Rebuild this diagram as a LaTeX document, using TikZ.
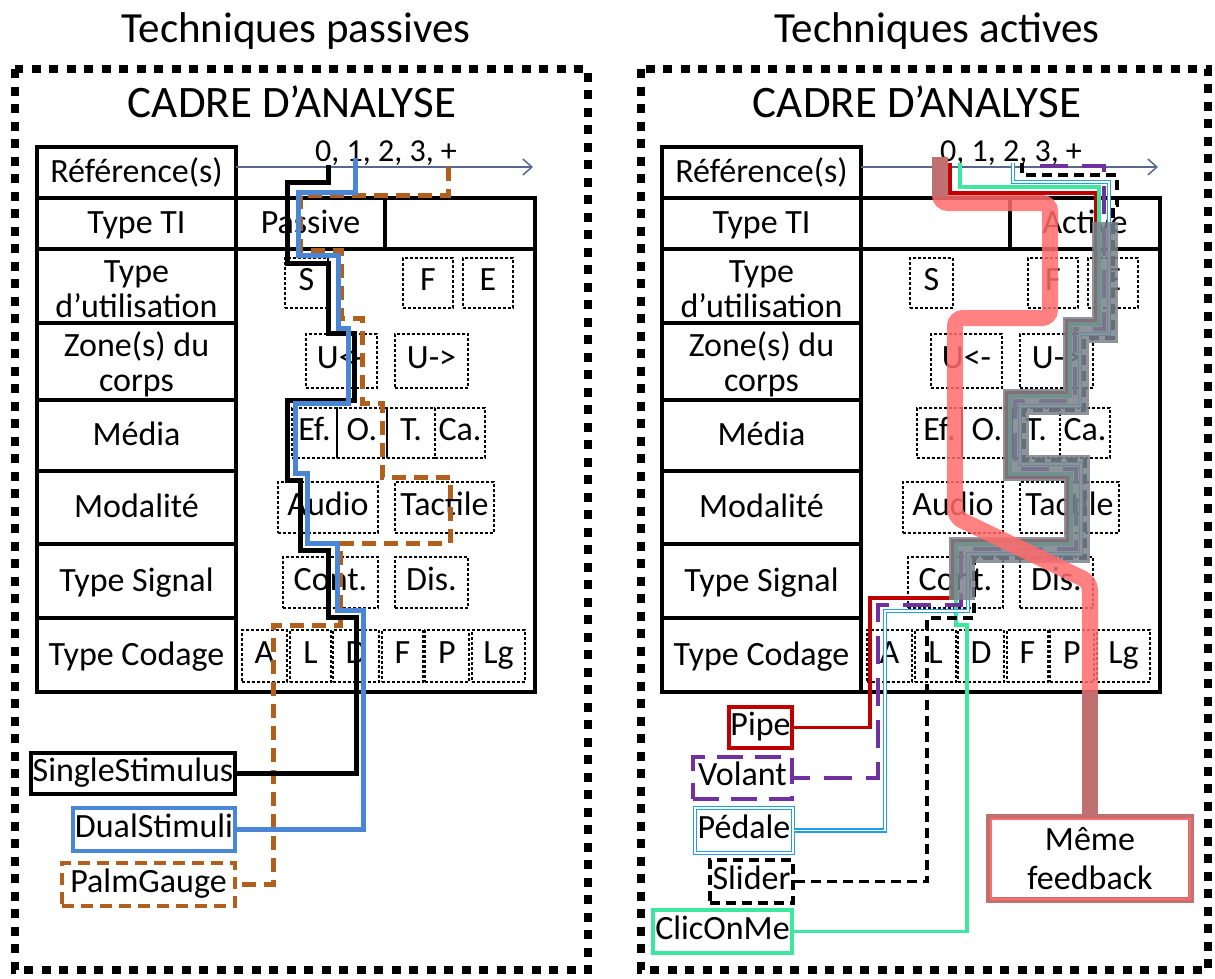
\documentclass[tikz,border=0pt]{standalone}
\usepackage{fontspec}
\setmainfont{Carlito}
\usetikzlibrary{arrows.meta}
\definecolor{dsblue}{RGB}{74,134,214}
\definecolor{pgbrown}{RGB}{176,96,28}
\definecolor{pipered}{RGB}{192,0,0}
\definecolor{volpurple}{RGB}{112,48,160}
\definecolor{pedcyan}{RGB}{30,160,225}
\definecolor{clicgreen}{RGB}{60,232,160}
\definecolor{bandgray}{RGB}{122,130,138}
\definecolor{bandred}{RGB}{255,108,108}
\definecolor{rosedark}{RGB}{192,112,112}
\definecolor{axisc}{RGB}{86,104,140}
\tikzset{
  tbl/.style={line width=3.2pt, line cap=rect},
  framebox/.style={line width=8pt, dash pattern=on 9pt off 8.5pt},
  ttl/.style={font=\fontsize{43}{48}\selectfont, inner sep=0pt},
  cadre/.style={font=\fontsize{45}{50}\selectfont, inner sep=0pt},
  lab/.style={font=\fontsize{34}{37}\selectfont, inner sep=0pt, text height=22pt, text depth=7pt},
  lab2/.style={font=\fontsize{34}{35}\selectfont, inner sep=0pt, align=center},
  nums/.style={font=\fontsize{32}{35}\selectfont, inner sep=0pt},
  axis/.style={axisc, line width=1.5pt, -{Straight Barb[length=9pt,width=16pt]}},
  dbox/.style={draw, dash pattern=on 3pt off 2pt, line width=1.1pt, font=\fontsize{34}{37}\selectfont, inner sep=0pt, text height=22pt, text depth=7pt},
  tag/.style={font=\fontsize{34}{38}\selectfont, inner sep=0pt, text height=22pt, text depth=7pt, fill=white},
  ssl/.style={line width=5pt, black},
  dsl/.style={line width=5pt, dsblue},
  pgl/.style={line width=5pt, pgbrown, dash pattern=on 14pt off 8pt},
  pipel/.style={line width=3.5pt, pipered},
  volantl/.style={line width=4pt, volpurple, dash pattern=on 28pt off 14pt},
  pedalel/.style={draw=pedcyan, double=white, line width=1.3pt, double distance=1.6pt},
  sliderl/.style={line width=3.5pt, black, dash pattern=on 10pt off 6pt},
  clicl/.style={line width=3.5pt, clicgreen},
  grayband/.style={line width=26pt, bandgray, opacity=0.85},
  redband/.style={line width=16pt, bandred, opacity=0.85, rounded corners=8pt},
  darkband/.style={line width=16pt, rosedark},
}
\newcommand{\drawpanel}[2]{%
\begin{scope}[xshift=#2]
  \node[cadre, anchor=base] (#1cadre) at (292,117) {CADRE D’ANALYSE};
  \draw[tbl] (37,147) rectangle (236,692);
  \draw[tbl] (236,198) -- (535,198) -- (535,692) -- (236,692);
  \foreach \yy in {198,249,323,400,471,544,618} {\draw[tbl] (37,\yy) -- (236,\yy);}
  \draw[tbl] (236,249) -- (535,249);
  \draw[tbl] (385,198) -- (385,249);
  \coordinate (#1ax0) at (236,167);
  \coordinate (#1ax1) at (533,167);
  \draw[axis] (#1ax0) -- (#1ax1);
  \node[nums, anchor=base] (#1nums) at (386,161) {0, 1, 2, 3, +};
  \node[lab] (#1ref) at (136.5,175) {Référence(s)};
  \node[lab] (#1ti) at (136.5,226) {Type TI};
  \node[lab2] (#1ut) at (136.5,289) {Type\\d’utilisation};
  \node[lab2] (#1zo) at (136.5,364) {Zone(s) du\\corps};
  \node[lab] (#1me) at (136.5,438) {Média};
  \node[lab] (#1mo) at (136.5,510) {Modalité};
  \node[lab] (#1si) at (136.5,584) {Type Signal};
  \node[lab] (#1co) at (136.5,658) {Type Codage};
  \node[dbox, minimum width=43pt, minimum height=50pt] (#1uS) at (306.5,283) {S};
  \node[dbox, minimum width=50pt, minimum height=50pt] (#1uF) at (428,283) {F};
  \node[dbox, minimum width=50pt, minimum height=50pt] (#1uE) at (488,283) {E};
  \node[dbox, minimum width=71pt, minimum height=54pt] (#1zL) at (341.5,361) {U<-};
  \node[dbox, minimum width=73pt, minimum height=54pt] (#1zR) at (431.5,361) {U->};
  \node[dbox, minimum width=45pt, minimum height=50pt] (#1mEf) at (314.5,433) {Ef.};
  \node[dbox, minimum width=50pt, minimum height=50pt] (#1mO) at (362,433) {O.};
  \node[dbox, minimum width=48pt, minimum height=50pt] (#1mT) at (411,433) {T.};
  \node[dbox, minimum width=50pt, minimum height=50pt] (#1mCa) at (460,433) {Ca.};
  \node[dbox, minimum width=100pt, minimum height=51pt] (#1oA) at (328,507.5) {Audio};
  \node[dbox, minimum width=99pt, minimum height=51pt] (#1oT) at (444.5,507.5) {Tactile};
  \node[dbox, minimum width=95pt, minimum height=51pt] (#1sC) at (330.5,582.5) {Cont.};
  \node[dbox, minimum width=73pt, minimum height=51pt] (#1sD) at (431.5,582.5) {Dis.};
  \node[dbox, minimum width=45pt, minimum height=52pt] (#1cA) at (264.5,656) {A};
  \node[dbox, minimum width=41pt, minimum height=52pt] (#1cL) at (310.5,656) {L};
  \node[dbox, minimum width=46pt, minimum height=52pt] (#1cD) at (356,656) {D};
  \node[dbox, minimum width=41pt, minimum height=52pt] (#1cF) at (402.5,656) {F};
  \node[dbox, minimum width=44pt, minimum height=52pt] (#1cP) at (447,656) {P};
  \node[dbox, minimum width=53pt, minimum height=52pt] (#1cLg) at (498.5,656) {Lg};
\end{scope}}

\begin{document}
\begin{tikzpicture}[x=1pt,y=-1pt]
\useasboundingbox (0,0) rectangle (1215,978);
\fill[white] (0,0) rectangle (1215,978);

\node[ttl, anchor=base] (tpass) at (296,42) {Techniques passives};
\node[ttl, anchor=base] (tact) at (937,42) {Techniques actives};

\draw[framebox] (15,69) rectangle (588,970);
\draw[framebox] (641,69) rectangle (1208,970);

\drawpanel{L}{0}
\drawpanel{R}{625}

\node[lab] (Lpass) at (310.5,226) {Passive};
\node[lab] (Ract) at (1085,226) {Active};

% ---------- left label boxes ----------
\node[tag, draw=black, line width=4pt, minimum width=204pt, minimum height=41pt] (SS) at (133,773.5) {SingleStimulus};
\node[tag, draw=dsblue, line width=4pt, minimum width=162pt, minimum height=43pt] (DS) at (154,829.5) {DualStimuli};
\node[tag, draw=pgbrown, line width=4pt, dash pattern=on 12pt off 7pt, minimum width=173pt, minimum height=43pt] (PG) at (148.5,884.5) {PalmGauge};

% ---------- left connectors ----------
\coordinate (sOr) at (448,167);
\coordinate (sBlk) at (328,165);
\coordinate (sBlu) at (355,158);
\draw[pgl] (sOr) -- (448,195) -- (300,195) -- (300,250) -- (341,250) -- (341,318) -- (362,318) -- (362,403) -- (382,403) -- (382,477) -- (450,477) -- (450,543) -- (340,543) -- (340,625) -- (273,625) |- (PG.east);
\draw[ssl] (sBlk) -- (328,182) -- (287,182) -- (287,263) -- (328,263) -- (328,333) -- (354,333) -- (354,400) -- (287,400) -- (287,480) -- (300,480) -- (300,550) -- (328,550) -- (328,617) -- (356,617) |- (SS.east);
\draw[dsl] (sBlu) -- (355,192) -- (298,192) -- (298,255) -- (338,255) -- (338,328) -- (348,328) -- (348,403) -- (295,403) -- (295,473) -- (307,473) -- (307,543) -- (337,543) -- (337,610) -- (363,610) |- (DS.east);

% ---------- right label boxes ----------
\node[tag, draw=pipered, line width=4pt, minimum width=63pt, minimum height=41pt] (Pipe) at (760.5,727.5) {Pipe};
\node[tag, draw=volpurple, line width=4pt, dash pattern=on 26pt off 12pt, minimum width=99pt, minimum height=42pt] (Volant) at (742.5,778) {Volant};
\node[tag, draw=pedcyan, double=white, line width=1.3pt, double distance=1.6pt, minimum width=98pt, minimum height=45pt] (Pedale) at (744,830.5) {Pédale};
\node[tag, draw=black, line width=4pt, dash pattern=on 10pt off 6pt, minimum width=83pt, minimum height=43pt] (Slider) at (751.5,881.5) {Slider};
\node[tag, draw=clicgreen, line width=4pt, minimum width=139pt, minimum height=43pt] (Clic) at (722.5,931.5) {ClicOnMe};

% ---------- right strands ----------
\coordinate (sRed) at (950,163);
\coordinate (sGrn) at (960,163);
\coordinate (sPur) at (1040,166);
\coordinate (sCy) at (1013,163);
\coordinate (sSl) at (1022,163);
\draw[pipel] (sRed) -- (950,193) -- (1096,193) -- (1096,321) -- (1067,321) -- (1067,393) -- (1007,393) -- (1007,477) -- (1068,477) -- (1068,541) -- (953,541) -- (953,598) -- (870,598) |- (Pipe.east);
\draw[clicl] (sGrn) -- (960,187) -- (1099,187) -- (1099,324) -- (1070,324) -- (1070,396) -- (1010,396) -- (1010,474) -- (1071,474) -- (1071,544) -- (956,544) -- (956,625) -- (967,625) |- (Clic.east);
\draw[pedalel] (sCy) -- (1013,182) -- (1109,182) -- (1109,334) -- (1080,334) -- (1080,406) -- (1020,406) -- (1020,464) -- (1081,464) -- (1081,554) -- (968,554) -- (968,611) -- (885,611) |- (Pedale.east);
\draw[sliderl] (sSl) -- (1022,175) -- (1117,175) -- (1117,205) -- (1113,205) -- (1113,338) -- (1084,338) -- (1084,410) -- (1024,410) -- (1024,460) -- (1085,460) -- (1085,558) -- (974,558) -- (974,618) -- (927,618) |- (Slider.east);
\draw[volantl] (sPur) -- (1104,166) -- (1104,329) -- (1075,329) -- (1075,401) -- (1015,401) -- (1015,469) -- (1076,469) -- (1076,549) -- (961,549) -- (961,605) -- (878,605) |- (Volant.east);

% ---------- gray bundle ----------
\coordinate (gb0) at (1105,222);
\coordinate (gb1) at (962,600);
\draw[grayband] (gb0) -- (1105,330) -- (1076,330) -- (1076,402) -- (1016,402) -- (1016,468) -- (1077,468) -- (1077,550) -- (962,550) -- (gb1);

% ---------- red band to Meme feedback ----------
\node[tag, draw=rosedark, line width=6pt, minimum width=202pt, minimum height=83pt, align=center, text height=, text depth=, font=\fontsize{34}{39}\selectfont] (Meme) at (1090,858.5) {Même\\feedback};
\draw[bandred, line width=2pt] ([xshift=4.5pt,yshift=-4.5pt]Meme.north west) rectangle ([xshift=-4.5pt,yshift=4.5pt]Meme.south east);
\coordinate (rbS) at (940,157);
\coordinate (rbE) at (1090,692);
\draw[redband] (rbS) -- (940,203) -- (1050,203) -- (1050,318) -- (955,318) -- (955,517) -- (1090,582) -- (rbE);
\draw[darkband] (rbS) -- (940,197);
\draw[darkband] (rbE) -- (Meme.north);
\end{tikzpicture}
\end{document}
